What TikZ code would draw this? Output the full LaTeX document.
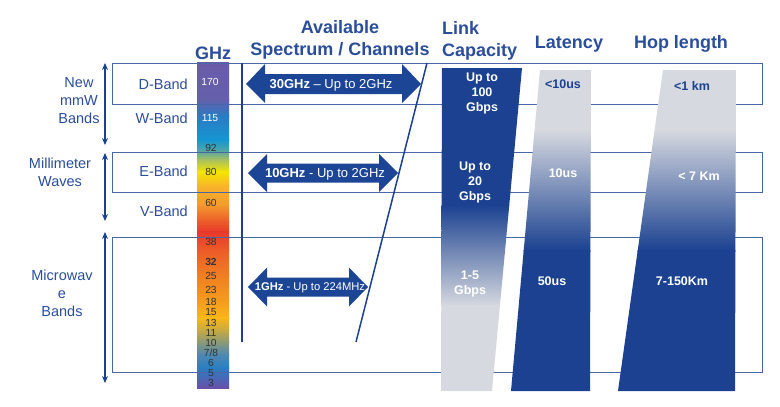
\documentclass[tikz,border=0pt]{standalone}
\usepackage{fontspec}
\setmainfont{Liberation Sans}
\usetikzlibrary{arrows.meta}
\definecolor{tblue}{HTML}{2B4E9B}
\definecolor{dblue}{HTML}{1B4190}
\definecolor{ablue}{HTML}{1D4596}
\definecolor{lineblue}{HTML}{4A68A6}
\definecolor{bgray}{HTML}{D6D9DF}
% colour column stops
\definecolor{g0}{HTML}{6A5BA9}
\definecolor{g1}{HTML}{6460AB}
\definecolor{g2}{HTML}{2A7BC4}
\definecolor{g3}{HTML}{1596D2}
\definecolor{g4}{HTML}{4DA5A8}
\definecolor{g5}{HTML}{A8C060}
\definecolor{g6}{HTML}{F4E500}
\definecolor{g7}{HTML}{F8B52A}
\definecolor{g8}{HTML}{F39A2C}
\definecolor{g9}{HTML}{EC5A2A}
\definecolor{g10}{HTML}{E8392B}
\definecolor{g11}{HTML}{EC5B28}
\definecolor{g12}{HTML}{F07E22}
\definecolor{g13}{HTML}{F59A1E}
\definecolor{g14}{HTML}{F9B61A}
\definecolor{g15}{HTML}{C8AA40}
\definecolor{g16}{HTML}{8C9A78}
\definecolor{g17}{HTML}{4E88B0}
\definecolor{g18}{HTML}{2A7EC2}
\definecolor{g19}{HTML}{6A4FA8}
\begin{document}
\begin{tikzpicture}[x=1pt,y=-1pt,
  lbl/.style={text=tblue, font=\fontsize{14.5}{18}\selectfont, align=center, inner sep=0},
  band/.style={text=tblue, font=\fontsize{14.5}{17}\selectfont, anchor=east, inner sep=0},
  hdr/.style={text=tblue, font=\bfseries\fontsize{18}{22.5}\selectfont, inner sep=0},
  num/.style={font=\fontsize{10.3}{10}\selectfont, inner sep=0, text=black!80},
  bartxt/.style={text=white, font=\bfseries\fontsize{12.5}{15}\selectfont, align=center, inner sep=0},
  bartxtd/.style={text=dblue, font=\bfseries\fontsize{12.5}{15}\selectfont, align=center, inner sep=0},
  arrtxt/.style={text=white, font=\fontsize{13}{15}\selectfont, inner sep=0},
  rowbox/.style={draw=lineblue, line width=0.9pt},
  larrow/.style={draw=dblue, line width=1.5pt, {Stealth[length=7pt,width=6pt]}-{Stealth[length=7pt,width=6pt]}},
  blk/.style={fill=ablue}
]
\useasboundingbox (0,0) rectangle (780,407);
\fill[white] (0,0) rectangle (780,407);

% ---- colour column
\foreach \ya/\ca/\yb/\cb in {63/g0/100/g1,100/g1/116/g2,116/g2/140/g3,140/g3/150/g4,150/g4/160/g5,160/g5/172/g6,172/g6/186/g7,186/g7/205/g8,205/g8/222/g9,222/g9/232/g10,232/g10/250/g11,250/g11/275/g12,275/g12/300/g13,300/g13/318/g14,318/g14/330/g15,330/g15/342/g16,342/g16/355/g17,355/g17/368/g18,368/g18/388.5/g19}
  \shade[top color=\ca, bottom color=\cb, shading angle=0] (197,\ya-0.3) rectangle (229,\yb);

% ---- row boxes
\draw[rowbox] (112,63) rectangle (762,104);
\draw[rowbox] (112,152) rectangle (762,192);
\draw[rowbox] (112,237) rectangle (762,372);

% ---- bars
\begin{scope}
\clip (442,68) -- (522,68) -- (492,391) -- (441,391) -- cycle;
\fill[dblue] (430,60) rectangle (530,206);
\shade[top color=dblue, bottom color=bgray] (430,205) rectangle (530,306);
\fill[bgray] (430,305) rectangle (530,400);
\end{scope}
\begin{scope}
\clip (540,70) -- (591,70) -- (590,391) -- (511,391) -- cycle;
\fill[bgray] (500,60) rectangle (600,131);
\shade[top color=bgray, bottom color=dblue] (500,130) rectangle (600,251);
\fill[dblue] (500,250) rectangle (600,400);
\end{scope}
\begin{scope}
\clip (663,70) -- (736,70) -- (735,391) -- (618,391) -- cycle;
\fill[bgray] (610,60) rectangle (745,131);
\shade[top color=bgray, bottom color=dblue] (610,130) rectangle (745,251);
\fill[dblue] (610,250) rectangle (745,400);
\end{scope}

% ---- headers
\node[hdr] (hghz) at (213,53) {GHz};
\node[hdr, align=center] (hspec) at (340,40) {Available\\Spectrum / Channels};
\node[hdr, align=left, anchor=west] (hlink) at (442,41) {Link\\Capacity};
\node[hdr] (hlat) at (569,44) {Latency};
\node[hdr] (hhop) at (681,44) {Hop length};

% ---- left group labels and arrows
\node[lbl] (gnew) at (79,101) {New\\mmW\\Bands};
\node[lbl] (gmm) at (60,172) {Millimeter\\Waves};
\node[lbl] (gmw) at (62,293.5) {Microwav\\e\\Bands};
\coordinate (a1t) at (105,63);  \coordinate (a1b) at (105,145);
\coordinate (a2t) at (105,153); \coordinate (a2b) at (105,221);
\coordinate (a3t) at (105,232); \coordinate (a3b) at (105,383);
\draw[larrow] (a1t) -- (a1b);
\draw[larrow] (a2t) -- (a2b);
\draw[larrow] (a3t) -- (a3b);

% ---- band labels
\node[band] (bd) at (188,84) {D-Band};
\node[band] (bw) at (188,118) {W-Band};
\node[band] (be) at (188,171) {E-Band};
\node[band] (bv) at (188,211) {V-Band};

% ---- column numbers
\node[num, text=white] (n170) at (210,82) {170};
\node[num, text=white] (n115) at (210,118) {115};
\node[num] (n92) at (211,148) {92};
\node[num] (n80) at (211,172) {80};
\node[num] (n60) at (211,203) {60};
\node[num] (n38) at (211,242) {38};
\node[num, font=\bfseries\fontsize{10.3}{10}\selectfont] (n32) at (211,262) {32};
\node[num] (n25) at (211,276) {25};
\node[num] (n23) at (211,290) {23};
\node[num] (n18) at (211,302) {18};
\node[num] (n15) at (211,312) {15};
\node[num] (n13) at (211,323) {13};
\node[num] (n11) at (211,333) {11};
\node[num] (n10) at (211,343) {10};
\node[num] (n78) at (211,353) {7/8};
\node[num] (n6) at (211,363) {6};
\node[num] (n5) at (211,373) {5};
\node[num] (n3) at (211,383) {3};

% ---- spectrum lines
\coordinate (vt) at (242,63); \coordinate (vb) at (242,342);
\draw[dblue, line width=2pt] (vt) -- (vb);
\coordinate (dt) at (427,63); \coordinate (db) at (356,342);
\draw[dblue, line width=1.5pt] (dt) -- (db);

% ---- block double arrows
\fill[blk] (246,84) -- (265,64) -- (265,74) -- (402,74) -- (402,64) -- (421,84) -- (402,103) -- (402,94) -- (265,94) -- (265,103) -- cycle;
\node[arrtxt] (t30) at (331,85) {\textbf{30GHz} – Up to 2GHz};
\fill[blk] (248,173) -- (267,154) -- (267,163.5) -- (379,163.5) -- (379,154) -- (398,173) -- (379,192) -- (379,182.5) -- (267,182.5) -- (267,192) -- cycle;
\node[arrtxt] (t10) at (325,174) {\textbf{10GHz} - Up to 2GHz};
\fill[blk] (248,287) -- (267,267.5) -- (267,277.5) -- (349,277.5) -- (349,267.5) -- (368,287) -- (349,306.5) -- (349,296.5) -- (267,296.5) -- (267,306.5) -- cycle;
\node[arrtxt, font=\fontsize{11.2}{14}\selectfont] (t1) at (310,288) {\textbf{1GHz} - Up to 224MHz};

% ---- bar texts
\node[bartxt] (c100) at (482,93) {Up to\\100\\Gbps};
\node[bartxt] (c20) at (475,182.5) {Up to\\20\\Gbps};
\node[bartxt] (c15) at (470,284) {1-5\\Gbps};
\node[bartxtd] (l10) at (563,84) {<10us};
\node[bartxt] (l10b) at (563,173) {10us};
\node[bartxt] (l50) at (552,281) {50us};
\node[bartxtd] (h1) at (692,86) {<1 km};
\node[bartxt] (h7) at (699,176) {< 7 Km};
\node[bartxt] (h150) at (682,281) {7-150Km};
\end{tikzpicture}
\end{document}
